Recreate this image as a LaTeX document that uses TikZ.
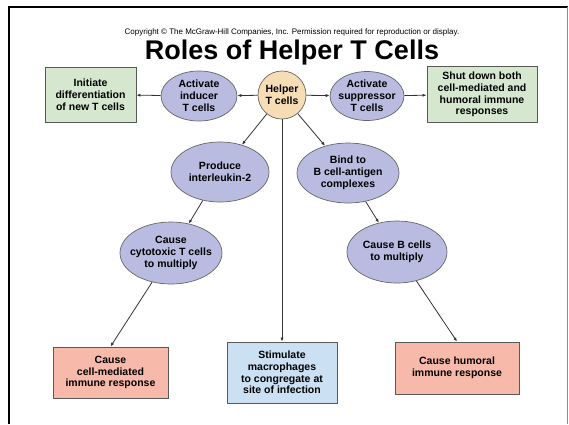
\documentclass[tikz,border=0pt]{standalone}
\usepackage{fontspec}
\setmainfont{Liberation Sans}
\usepackage{xcolor}
\usetikzlibrary{shapes.geometric,positioning,arrows.meta}

\definecolor{boxgreen}{HTML}{D6E7CF}
\definecolor{boxpink}{HTML}{F7B9A9}
\definecolor{boxblue}{HTML}{CBE0F3}
\definecolor{ovalblue}{HTML}{B9BCE0}
\definecolor{helperfill}{HTML}{F7DDB6}

\begin{document}
\begin{tikzpicture}[
  x=1pt, y=-1pt,
  font=\fontsize{10.5}{11.8}\selectfont\bfseries,
  box/.style={draw=black!65, line width=0.9pt, align=center, inner sep=1pt},
  greenbox/.style={box, fill=boxgreen},
  pinkbox/.style={box, fill=boxpink},
  bluebox/.style={box, fill=boxblue},
  oval/.style={ellipse, draw=black!60, line width=0.7pt, fill=ovalblue, align=center, inner sep=-8pt},
  link/.style={-{Latex[length=4pt,width=3.2pt]}, line width=0.8pt, black!80},
]
\useasboundingbox (0,0) rectangle (569,424);

% frame
\draw[line width=2pt] (9,424) -- (9,7) -- (568,7);
\draw[black!45, line width=1pt] (567.5,7) -- (567.5,424);

% heading
\node[font=\fontsize{8}{9}\selectfont] (copy) at (292,32)
  {Copyright \textcopyright{} The McGraw-Hill Companies, Inc. Permission required for reproduction or display.};
\node[font=\fontsize{27}{29}\selectfont\bfseries] (title) at (292,53) {Roles of Helper T Cells};

% top row
\node[circle, draw=black!60, line width=0.7pt, fill=helperfill, minimum size=48pt, inner sep=-3pt, align=center]
  (helper) at (282,95) {Helper\\T cells};
\node[oval, minimum width=76pt, minimum height=50pt] (inducer) at (199,96) {Activate\\inducer\\T cells};
\node[oval, minimum width=74pt, minimum height=49pt] (suppressor) at (367,96) {Activate\\suppressor\\T cells};
\node[greenbox, minimum width=91pt, minimum height=55pt] (initiate) at (90.5,94.5)
  {Initiate\\differentiation\\of new T cells};
\node[greenbox, minimum width=110pt, minimum height=56pt] (shutdown) at (482,94.5)
  {Shut down both\\cell-mediated and\\humoral immune\\responses};

% middle ovals
\node[oval, minimum width=98pt, minimum height=60pt] (interleukin) at (220,172) {Produce\\interleukin-2};
\node[oval, minimum width=102pt, minimum height=60pt] (bind) at (348,173) {Bind to\\B cell-antigen\\complexes};
\node[oval, minimum width=102pt, minimum height=62pt] (cytotoxic) at (171,253) {Cause\\cytotoxic T cells\\to multiply};
\node[oval, minimum width=100pt, minimum height=62pt] (bcells) at (397,252) {Cause B cells\\to multiply};

% bottom boxes
\node[pinkbox, minimum width=115pt, minimum height=51pt] (cellmed) at (110.5,372.5)
  {Cause\\cell-mediated\\immune response};
\node[bluebox, minimum width=110pt, minimum height=61pt] (macro) at (282,372.5)
  {Stimulate\\macrophages\\to congregate at\\site of infection};
\node[pinkbox, minimum width=124pt, minimum height=52pt] (humoral) at (457,368)
  {Cause humoral\\immune response};

% connectors
\draw[link] (helper) -- (inducer);
\draw[link] (inducer) -- (initiate);
\draw[link] (helper) -- (suppressor);
\draw[link] (suppressor) -- (shutdown);
\draw[link] (helper) -- (interleukin);
\draw[link] (helper) -- (bind);
\draw[link] (helper) -- (macro);
\draw[link] (interleukin) -- (cytotoxic);
\draw[link] (bind) -- (bcells);
\draw[link] (cytotoxic) -- (cellmed.north);
\draw[link] (bcells) -- (humoral.north);
\end{tikzpicture}
\end{document}
